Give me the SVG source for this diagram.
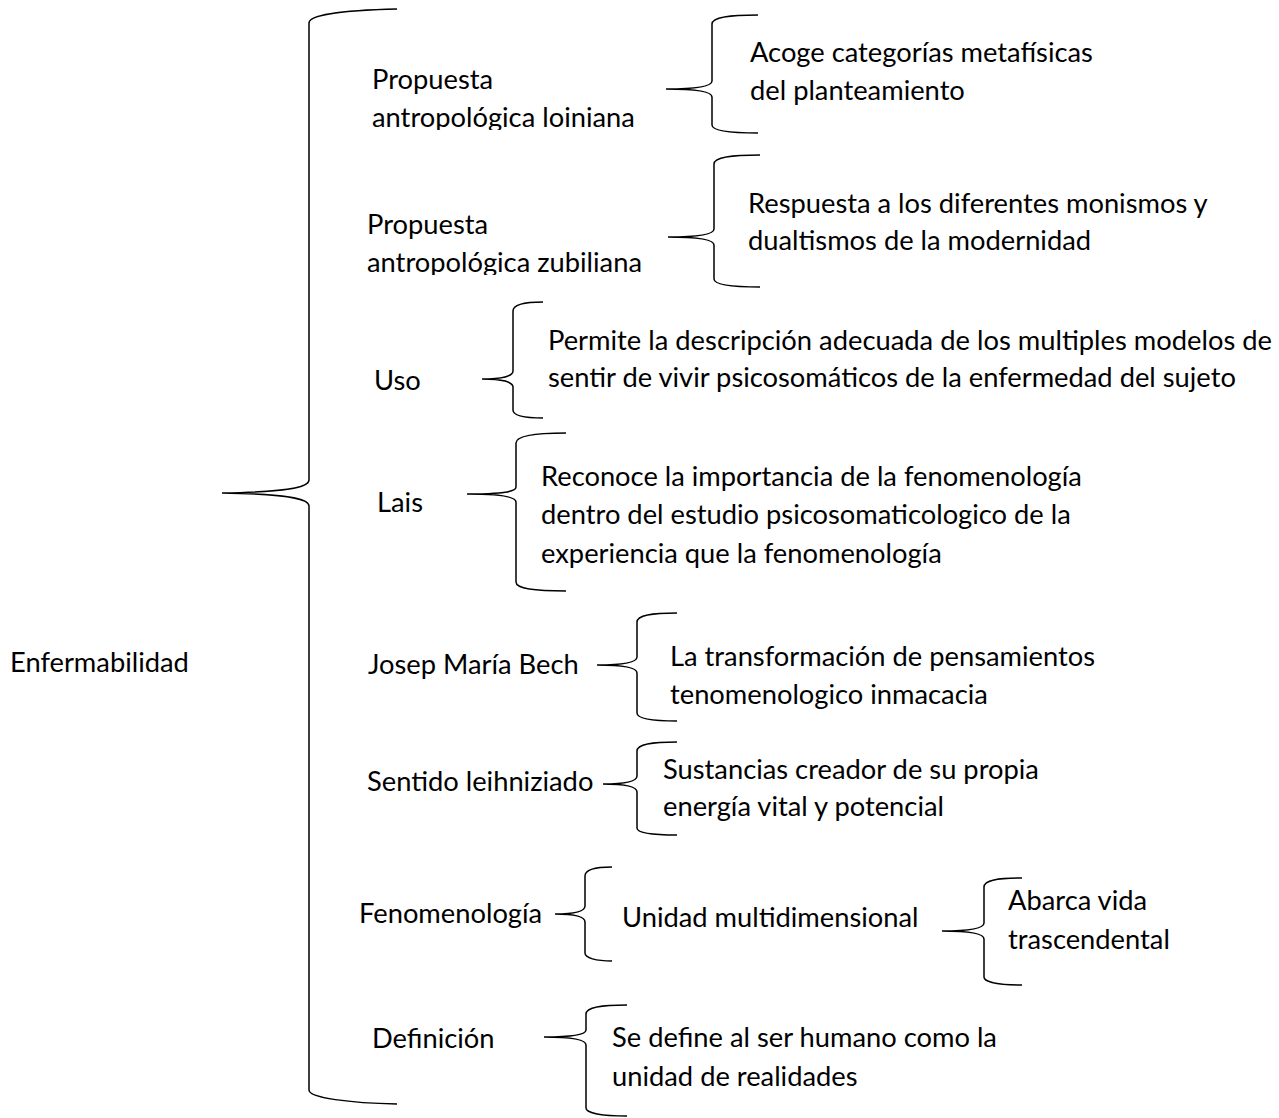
<svg xmlns="http://www.w3.org/2000/svg" width="1279" height="1118" viewBox="0 0 1279 1118">
<style>
text{font-family:Lato,"Noto Sans","Liberation Sans",sans-serif;font-size:27.3px;fill:#000}
.br{fill:none;stroke:#000;stroke-width:1.5}
</style>
<defs>
<clipPath id="c1"><rect x="360" y="0" width="300" height="130"/></clipPath>
<clipPath id="c2"><rect x="360" y="150" width="300" height="125"/></clipPath>
</defs>
<rect width="1279" height="1118" fill="#fff"/>
<g id="connectors">
<path class="br" d="M397,9 C350,10 309,14 309,23 L309,480 C309,488 285,492 222,493 C285,494 309,498 309,506 L309,1090 C309,1098 350,1103 397,1104"/>
<path class="br" d="M758,15 C730,15 712,17 712,24 L712,81 C712,86 700,89 666,89 C700,89 712,92 712,97 L712,125 C712,131 730,133 758,133"/>
<path class="br" d="M760,155 C732,155 714,157 714,164 L714,229 C714,234 702,237 668,237 C702,237 714,240 714,245 L714,279 C714,285 732,287 760,287"/>
<path class="br" d="M543,302 C525,302 513,304 513,311 L513,371 C513,376 502,379 482,379 C502,379 513,382 513,387 L513,410 C513,416 525,418 543,418"/>
<path class="br" d="M566,433 C535,433 516,436 516,443 L516,487 C516,492 503,494 467,494 C503,494 516,497 516,502 L516,582 C516,589 535,591 566,591"/>
<path class="br" d="M677,613 C652,613 637,615 637,622 L637,657 C637,662 625,665 597,665 C625,665 637,668 637,673 L637,713 C637,719 652,721 677,721"/>
<path class="br" d="M677,742 C652,742 637,744 637,751 L637,776 C637,781 627,784 603,784 C627,784 637,787 637,792 L637,828 C637,833 652,835 677,835"/>
<path class="br" d="M612,867 C596,867 585,869 585,876 L585,906 C585,911 576,914 555,914 C576,914 585,917 585,922 L585,953 C585,958 596,961 612,961"/>
<path class="br" d="M1022,878 C998,878 984,880 984,887 L984,923 C984,928 972,931 942,931 C972,931 984,934 984,939 L984,977 C984,982 998,985 1022,985"/>
<path class="br" d="M627,1005 C602,1005 586,1007 586,1014 L586,1030 C586,1034 574,1037 544,1037 C574,1037 586,1040 586,1045 L586,1108 C586,1113 602,1116 627,1116"/>
</g>
<g id="root"><text x="10" y="672">Enfermabilidad</text></g>
<g id="n1"><text x="372" y="89">Propuesta</text><text x="372" y="127" clip-path="url(#c1)">antropológica loiniana</text></g>
<g id="n1a"><text x="750" y="62">Acoge categorías metafísicas</text><text x="750" y="100">del planteamiento</text></g>
<g id="n2"><text x="367" y="234">Propuesta</text><text x="367" y="272" clip-path="url(#c2)">antropológica zubiliana</text></g>
<g id="n2a"><text x="748" y="213">Respuesta a los diferentes monismos y</text><text x="748" y="250">dualtismos de la modernidad</text></g>
<g id="n3"><text x="374" y="390">Uso</text></g>
<g id="n3a"><text x="548" y="350" textLength="724" lengthAdjust="spacingAndGlyphs">Permite la descripción adecuada de los multiples modelos de</text><text x="548" y="387">sentir de vivir psicosomáticos de la enfermedad del sujeto</text></g>
<g id="n4"><text x="377" y="512">Lais</text></g>
<g id="n4a"><text x="541" y="486">Reconoce la importancia de la fenomenología</text><text x="541" y="524">dentro del estudio psicosomaticologico de la</text><text x="541" y="563">experiencia que la fenomenología</text></g>
<g id="n5"><text x="368" y="674">Josep María Bech</text></g>
<g id="n5a"><text x="670" y="666">La transformación de pensamientos</text><text x="670" y="704">tenomenologico inmacacia</text></g>
<g id="n6"><text x="367" y="791">Sentido leihniziado</text></g>
<g id="n6a"><text x="663" y="779">Sustancias creador de su propia</text><text x="663" y="816">energía vital y potencial</text></g>
<g id="n7"><text x="359" y="923">Fenomenología</text></g>
<g id="n7a"><text x="622" y="927">Unidad multidimensional</text></g>
<g id="n7b"><text x="1008" y="910">Abarca vida</text><text x="1008" y="949">trascendental</text></g>
<g id="n8"><text x="372" y="1048">Definición</text></g>
<g id="n8a"><text x="612" y="1047">Se define al ser humano como la</text><text x="612" y="1086">unidad de realidades</text></g>
</svg>
